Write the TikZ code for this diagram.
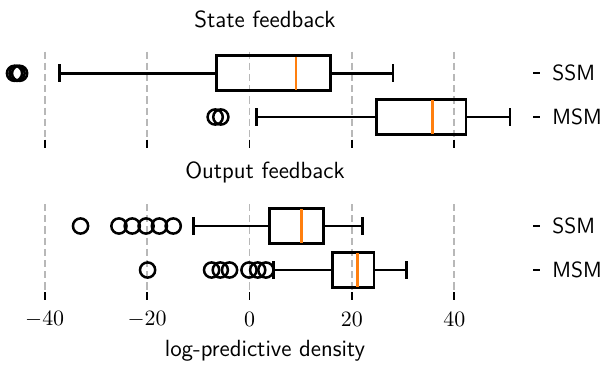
\documentclass[tikz,border=0pt]{standalone}
\usepackage{tikz}

\definecolor{medorange}{HTML}{FF7F0E}
\definecolor{gridgray}{HTML}{B8B8B8}

% one box row: y, whisker low, q1, median, q3, whisker high
\newcommand{\boxrow}[6]{%
  \draw[whisk] (#2,#1) -- (#3,#1) (#5,#1) -- (#6,#1);
  \draw[whisk] (#2,#1-9) -- (#2,#1+9) (#6,#1-9) -- (#6,#1+9);
  \draw[boxline] (#3,#1-17.5) rectangle (#5,#1+17.5);
  \draw[median] (#4,#1-16.8) -- (#4,#1+16.8);
}

\begin{document}
\begin{tikzpicture}[x=0.5pt, y=-0.5pt,
    font=\fontsize{11}{13}\selectfont,
    whisk/.style={line width=1.35pt},
    boxline/.style={line width=1.35pt},
    median/.style={line width=1.3pt, medorange},
    gridln/.style={line width=0.9pt, gridgray, dash pattern=on 3.6pt off 2pt},
    tickln/.style={line width=0.9pt},
    flier/.style={circle, draw, line width=1.25pt, minimum size=7.6pt, inner sep=0pt},
    lbl/.style={font=\sffamily\fontsize{11.7}{14}\selectfont, inner sep=0pt},
    ylbl/.style={font=\sffamily\fontsize{11}{13}\selectfont, inner sep=0pt}]

  \useasboundingbox (0,0) rectangle (607,365);

  % titles and axis label
  \node[lbl] (tstate)  at (265,19)  {State feedback};
  \node[lbl] (toutput) at (265,172) {Output feedback};
  \node[lbl] (xlab)    at (265,351) {log-predictive density};

  % right hand tick labels
  \foreach \y/\name/\txt in {73.3/ssa/SSM, 117/msa/MSM, 226/ssb/SSM, 270/msb/MSM} {
    \draw[tickln] (533,\y) -- (540,\y);
    \node[ylbl, anchor=west] (\name) at (552,\y) {\txt};
  }

  \begin{scope}[shift={(249.5,0)}, xscale=5.12]
    % grid and ticks
    \foreach \g in {-40,-20,...,40} {
      \draw[gridln] (\g,51.5) -- (\g,138.9);
      \draw[tickln] (\g,139.5) -- (\g,147.5);
      \draw[gridln] (\g,204) -- (\g,291.5);
      \draw[tickln] (\g,292) -- (\g,300);
      \node (tl\g) at (\g,319) {$\g$};
    }

    % state feedback
    \boxrow{73.3}{-37.1}{-6.4}{9.1}{15.8}{28.0}
    \boxrow{117}{1.4}{24.8}{35.7}{42.3}{50.9}
    \foreach \v [count=\i] in {-45.9,-45.4,-44.9}
      \node[flier] (sfa\i) at (\v,73.3) {};
    \foreach \v [count=\i] in {-6.7,-5.6}
      \node[flier] (sfb\i) at (\v,117) {};

    % output feedback
    \boxrow{226}{-10.9}{3.9}{10.1}{14.4}{22.1}
    \boxrow{270}{4.7}{16.2}{21.1}{24.3}{30.6}
    \foreach \v [count=\i] in {-33.0,-25.5,-22.9,-20.2,-17.6,-14.9}
      \node[flier] (ofa\i) at (\v,226) {};
    \foreach \v [count=\i] in {-19.9,-7.4,-5.7,-3.9,-0.1,1.6,3.2}
      \node[flier] (ofb\i) at (\v,270) {};
  \end{scope}
\end{tikzpicture}
\end{document}
